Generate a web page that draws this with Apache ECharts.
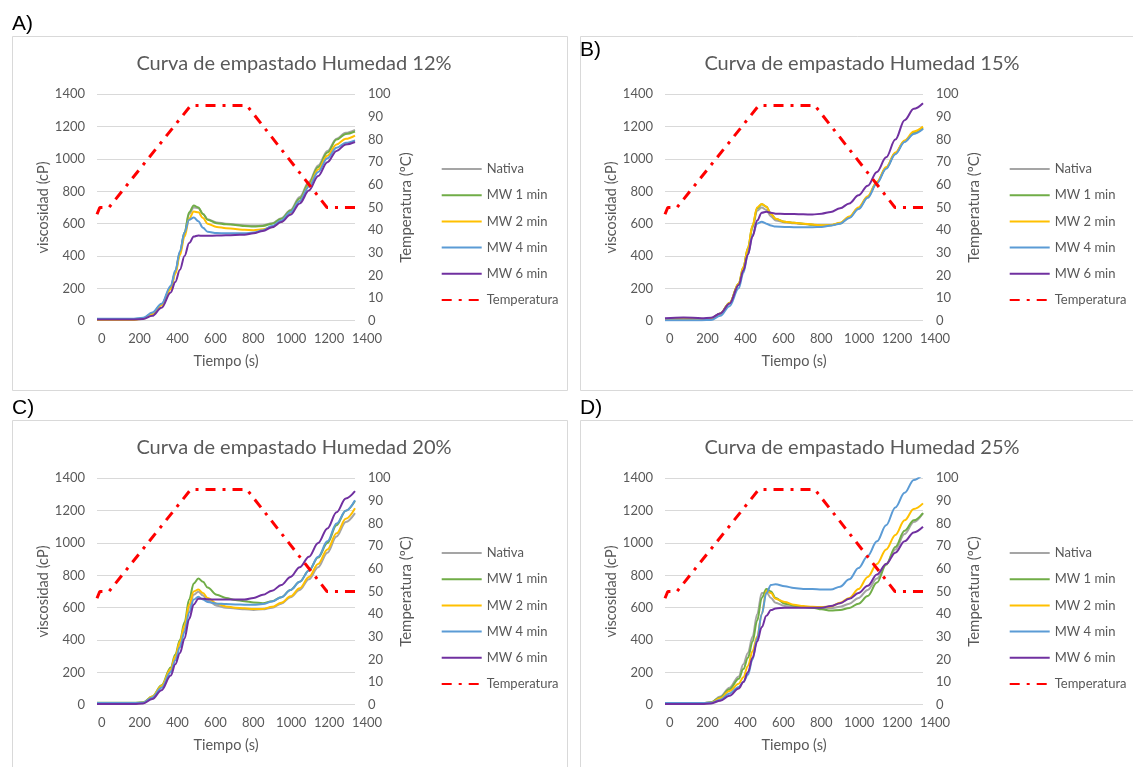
<!DOCTYPE html>
<html>
<head>
<meta charset="utf-8">
<script src="https://cdn.jsdelivr.net/npm/echarts@6/dist/echarts.min.js"></script>
<style>
  html, body { margin: 0; background: #fff; }
  #main { width: 1133px; height: 767px; }
</style>
</head>
<body>
<div id="main"></div>
<script>
// tiempo (s) comun a todas las curvas
const tiempo = [0, 100, 200, 250, 300, 350, 400, 425, 450, 475, 500, 525, 550, 575, 600, 650, 700, 750, 800, 850, 900, 950, 1000, 1050, 1100, 1150, 1200, 1250, 1300, 1350, 1400]

// perfil de temperatura
const tempT = [0, 15, 65, 508, 814, 1248, 1400]
const tempC = [47, 50, 50, 95, 95, 50, 50]

// A) Humedad 12%
const A_nativa = [8, 8, 8, 14, 45, 100, 205, 305, 425, 545, 660, 700, 695, 660, 628, 608, 600, 595, 590, 588, 590, 603, 633, 685, 765, 860, 960, 1050, 1125, 1162, 1180]
const A_mw1 = [10, 10, 10, 15, 45, 100, 200, 300, 420, 545, 670, 712, 700, 660, 625, 603, 597, 592, 586, 582, 586, 600, 630, 680, 755, 850, 950, 1040, 1120, 1155, 1170]
const A_mw2 = [5, 5, 5, 12, 40, 95, 195, 290, 405, 520, 630, 675, 670, 635, 600, 580, 572, 567, 562, 560, 565, 580, 612, 665, 740, 835, 935, 1020, 1090, 1125, 1145]
const A_mw4 = [12, 12, 12, 18, 50, 105, 215, 310, 430, 545, 625, 638, 615, 575, 550, 542, 540, 540, 540, 545, 560, 585, 620, 670, 740, 830, 920, 1005, 1070, 1100, 1115]
const A_mw6 = [8, 8, 8, 10, 30, 80, 175, 240, 315, 400, 480, 520, 527, 525, 525, 527, 528, 530, 532, 540, 555, 578, 610, 655, 725, 805, 895, 980, 1050, 1090, 1105]

// B) Humedad 15%
const B_nativa = [10, 10, 10, 14, 45, 110, 225, 320, 440, 575, 680, 700, 685, 645, 620, 608, 602, 598, 594, 588, 590, 602, 640, 695, 765, 855, 945, 1035, 1110, 1160, 1190]
const B_mw1 = [8, 8, 8, 12, 45, 110, 230, 330, 450, 585, 695, 720, 705, 660, 630, 612, 605, 600, 594, 588, 590, 602, 640, 695, 765, 855, 945, 1035, 1110, 1160, 1190]
const B_mw2 = [8, 8, 8, 12, 45, 110, 230, 330, 450, 590, 700, 722, 705, 660, 630, 612, 605, 600, 595, 590, 592, 605, 645, 700, 770, 860, 950, 1040, 1115, 1170, 1200]
const B_mw4 = [3, 3, 3, 5, 30, 90, 200, 295, 410, 530, 600, 612, 600, 588, 582, 580, 578, 578, 578, 580, 588, 600, 635, 690, 760, 850, 940, 1030, 1105, 1155, 1185]
const B_mw6 = [15, 20, 15, 18, 45, 105, 220, 310, 410, 520, 620, 668, 674, 668, 662, 660, 660, 658, 656, 662, 672, 695, 725, 775, 835, 920, 1010, 1120, 1240, 1310, 1345]

// C) Humedad 20%
const C_nativa = [8, 8, 8, 12, 45, 110, 210, 290, 375, 470, 600, 680, 698, 675, 645, 612, 600, 595, 590, 586, 590, 600, 625, 665, 710, 775, 850, 940, 1040, 1130, 1185]
const C_mw1 = [12, 12, 12, 15, 50, 120, 230, 310, 400, 510, 650, 750, 780, 760, 725, 680, 660, 648, 640, 632, 628, 640, 665, 710, 760, 830, 910, 1000, 1110, 1200, 1260]
const C_mw2 = [5, 5, 5, 12, 50, 115, 220, 300, 390, 490, 620, 700, 712, 690, 660, 625, 608, 600, 596, 592, 592, 605, 630, 670, 720, 790, 870, 960, 1060, 1150, 1215]
const C_mw4 = [10, 10, 10, 12, 45, 105, 200, 275, 355, 450, 570, 650, 668, 650, 635, 625, 622, 620, 618, 618, 622, 638, 665, 710, 760, 830, 915, 1010, 1120, 1200, 1265]
const C_mw6 = [5, 5, 5, 8, 35, 90, 180, 250, 320, 410, 530, 620, 655, 655, 652, 650, 650, 650, 650, 660, 680, 705, 740, 790, 850, 915, 1000, 1090, 1190, 1275, 1320]

// D) Humedad 25%
const D_nativa = [8, 8, 8, 15, 50, 105, 175, 250, 320, 420, 560, 690, 695, 660, 630, 610, 605, 602, 600, 598, 598, 605, 625, 660, 710, 780, 870, 960, 1055, 1130, 1185]
const D_mw1 = [8, 8, 8, 15, 45, 95, 160, 220, 290, 390, 520, 660, 715, 700, 660, 625, 612, 605, 600, 590, 582, 585, 598, 625, 672, 755, 865, 975, 1075, 1140, 1185]
const D_mw2 = [5, 5, 5, 12, 40, 85, 130, 170, 240, 330, 420, 560, 705, 690, 655, 635, 618, 610, 605, 604, 607, 630, 660, 715, 790, 870, 960, 1050, 1140, 1210, 1245]
const D_mw4 = [10, 10, 10, 12, 30, 70, 110, 140, 185, 280, 410, 560, 690, 740, 745, 732, 722, 716, 715, 712, 712, 730, 775, 845, 920, 1010, 1110, 1220, 1310, 1390, 1425]
const D_mw6 = [5, 5, 5, 8, 25, 55, 100, 140, 200, 290, 390, 480, 550, 585, 595, 600, 600, 600, 600, 600, 610, 628, 655, 690, 735, 805, 870, 940, 1010, 1065, 1100]

const nombres = ['Nativa', 'MW 1 min', 'MW 2 min', 'MW 4 min', 'MW 6 min']
const colores = ['#A5A5A5', '#70AD47', '#FFC000', '#5B9BD5', '#7030A0']

const paneles = [
  { tag: 'A)', titulo: 'Curva de empastado Humedad 12%', dx: 0, dy: 0, curvas: [A_nativa, A_mw1, A_mw2, A_mw4, A_mw6] },
  { tag: 'B)', titulo: 'Curva de empastado Humedad 15%', dx: 568, dy: 0, curvas: [B_nativa, B_mw1, B_mw2, B_mw4, B_mw6] },
  { tag: 'C)', titulo: 'Curva de empastado Humedad 20%', dx: 0, dy: 384, curvas: [C_nativa, C_mw1, C_mw2, C_mw4, C_mw6] },
  { tag: 'D)', titulo: 'Curva de empastado Humedad 25%', dx: 568, dy: 384, curvas: [D_nativa, D_mw1, D_mw2, D_mw4, D_mw6] },
]

const FONT = 'Lato'
const GRIS = '#595959'
const sinComas = (v) => String(v)

var chartDom = document.getElementById('main')
var myChart = echarts.init(chartDom, null, { renderer: 'canvas' })

var grid = [], xAxis = [], yAxis = [], series = [], title = [], legend = [], graphic = []

paneles.forEach((p, i) => {
  // grid de datos
  grid.push({ left: 97 + p.dx, top: 94.3 + p.dy, width: 258, height: 226.4 })
  xAxis.push({
    type: 'value', gridIndex: i, min: 0, max: 1400,
    axisLine: { show: false }, axisTick: { show: false }, axisLabel: { show: false }, splitLine: { show: false },
    name: 'Tiempo (s)', nameLocation: 'middle', nameGap: 33,
    nameTextStyle: { color: GRIS, fontSize: 14.5, fontFamily: FONT },
  })
  yAxis.push({
    type: 'value', gridIndex: i, min: 0, max: 1400, interval: 200,
    axisLine: { show: false }, axisTick: { show: false },
    axisLabel: { color: GRIS, fontSize: 13, fontFamily: FONT, margin: 12, formatter: sinComas },
    splitLine: { lineStyle: { color: '#D9D9D9', width: 1 } },
    name: 'viscosidad (cP)', nameLocation: 'middle', nameRotate: 90, nameGap: 44,
    nameTextStyle: { color: GRIS, fontSize: 14.5, fontFamily: FONT },
  })
  // titulo
  title.push({
    text: p.titulo, left: 289 + p.dx, top: 49 + p.dy, textAlign: 'center',
    textStyle: { color: GRIS, fontSize: 20, fontWeight: 'normal', fontFamily: FONT },
  })
  // leyenda
  legend.push({
    data: nombres.concat(['Temperatura']), orient: 'vertical',
    left: 440.7 + p.dx, top: 162.5 + p.dy, padding: 0,
    itemWidth: 40, itemHeight: 14, itemGap: 13.2,
    selectedMode: false,
    itemStyle: { opacity: 0 },
    textStyle: { color: GRIS, fontSize: 13, fontFamily: FONT },
  })
  // curvas
  p.curvas.forEach((vals, k) => {
    series.push({
      name: nombres[k], type: 'line', xAxisIndex: i, yAxisIndex: i,
      data: tiempo.map((t, j) => [t, vals[j]]),
      symbol: 'none', smooth: 0.35, smoothMonotone: 'x',
      lineStyle: { color: colores[k], width: 2 }, itemStyle: { color: colores[k] },
      z: 2 + k,
    })
  })
})

paneles.forEach((p, i) => {
  // eje derecho de temperatura
  yAxis.push({
    type: 'value', gridIndex: i, position: 'right', min: 0, max: 100, interval: 10,
    axisLine: { show: false }, axisTick: { show: false }, splitLine: { show: false },
    axisLabel: { color: GRIS, fontSize: 13, fontFamily: FONT, margin: 13 },
    name: 'Temperatura (ºC)', nameLocation: 'middle', nameRotate: 90, nameGap: 44,
    nameTextStyle: { color: GRIS, fontSize: 15, fontFamily: FONT },
  })
  series.push({
    name: 'Temperatura', type: 'line', xAxisIndex: i, yAxisIndex: 4 + i,
    data: tempT.map((t, j) => [t, tempC[j]]),
    symbol: 'none',
    lineStyle: { color: '#FF0000', width: 3, type: [10, 7, 3, 7] },
    itemStyle: { color: '#FF0000' },
    z: 10,
  })
})

paneles.forEach((p, i) => {
  // grid solo para las etiquetas del eje de tiempo (como en Excel)
  grid.push({ left: 101.7 + p.dx, top: 94.3 + p.dy, width: 265.3, height: 226.4 })
  xAxis.push({
    type: 'value', gridIndex: 4 + i, min: 0, max: 1400, interval: 200,
    axisLine: { show: false }, axisTick: { show: false }, splitLine: { show: false },
    axisLabel: { color: GRIS, fontSize: 13, fontFamily: FONT, margin: 12, formatter: sinComas },
  })
  yAxis.push({ type: 'value', gridIndex: 4 + i, show: false, min: 0, max: 1 })
  // marco y letra
  graphic.push({
    type: 'rect', shape: { x: 12.5 + p.dx, y: 36.5 + p.dy, width: 555 + (p.dx ? 5 : 0), height: 354 },
    style: { fill: null, stroke: '#D9D9D9', lineWidth: 1 }, silent: true,
  })
  graphic.push({
    type: 'text', left: 12 + p.dx, top: (i === 1 ? 40 : 14) + p.dy,
    style: { text: p.tag, fill: '#000', font: '21px "Liberation Sans", Arial, sans-serif' },
  })
})

var option = {
  animation: false,
  backgroundColor: '#fff',
  title: title,
  legend: legend,
  grid: grid,
  xAxis: xAxis,
  yAxis: yAxis,
  series: series,
  graphic: graphic,
}

option && myChart.setOption(option)
</script>
</body>
</html>
